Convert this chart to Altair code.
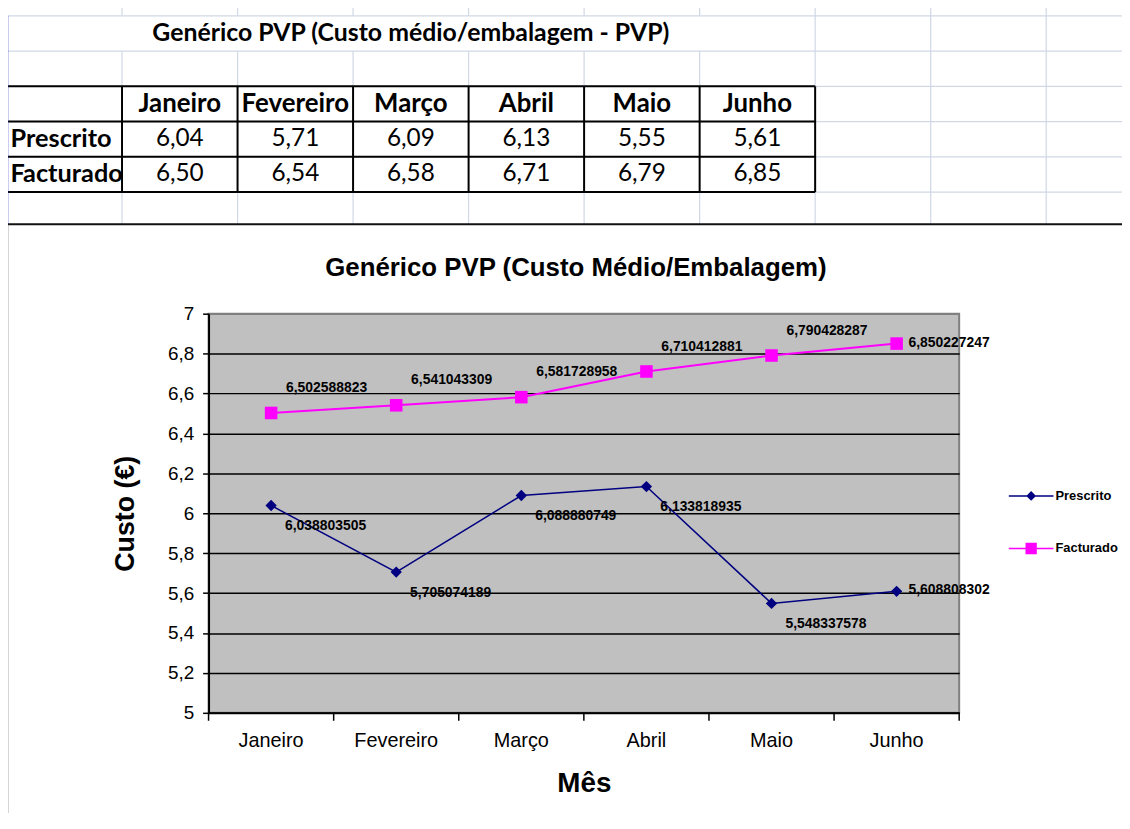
import altair as alt
import pandas as pd

# ---------------- data ----------------
months = ["Janeiro", "Fevereiro", "Março", "Abril", "Maio", "Junho"]
series = ["Prescrito", "Facturado"]
prescrito = [6.038803505, 5.705074189, 6.088880749, 6.133818935, 5.548337578, 5.608808302]
facturado = [6.502588823, 6.541043309, 6.581728958, 6.710412881, 6.790428287, 6.850227247]
y_ticks = [5, 5.2, 5.4, 5.6, 5.8, 6, 6.2, 6.4, 6.6, 6.8, 7]
table_title = "Genérico PVP (Custo médio/embalagem - PVP)"
chart_title = "Genérico PVP (Custo Médio/Embalagem)"
y_title = "Custo (€)"
x_title = "Mês"

# ---------------- styles ----------------
colors = {"Prescrito": "#000080", "Facturado": "#FF00FF"}
legend_paths = {
    "Prescrito": "M-1,0H1M0,-0.17L0.17,0L0,0.17L-0.17,0Z",
    "Facturado": "M-1,0H1M-0.22,-0.22H0.22V0.22H-0.22Z",
}
CF = "Liberation Sans"   # Arial-like
TF = "Lato"              # Calibri-like
W, H = 756, 402

values = {"Prescrito": prescrito, "Facturado": facturado}
df = pd.DataFrame([
    {"mes": m, "serie": s, "valor": v, "rotulo": f"{v:.9f}".replace(".", ",")}
    for s in series for m, v in zip(months, values[s])
])
df_m = pd.DataFrame({"mes": months})
df_one = pd.DataFrame({"a": [0]})
df_title = pd.DataFrame({"t": [chart_title]})

# ---------------- spreadsheet table (cell-index scales) ----------------
n_grid_cols = 10
tab_cols = len(months) + 1
tt = [dict(txt=table_title, cx=tab_cols / 2, cy=0.5, kind="title")]
for i, m in enumerate(months):
    tt.append(dict(txt=m, cx=i + 1.5, cy=2.5, kind="head"))
for j, s in enumerate(series):
    tt.append(dict(txt=s, cx=0, cy=3.5 + j, kind="rowlab"))
    for i, v in enumerate(values[s]):
        tt.append(dict(txt=f"{v:.2f}".replace(".", ","), cx=i + 1.5, cy=3.5 + j, kind="val"))
df_tt = pd.DataFrame(tt)

light_h = pd.DataFrame([dict(x0=0, x1=n_grid_cols, y0=r) for r in range(0, 6)])
light_v_full = pd.DataFrame([dict(x0=k, y0=(1 if 1 <= k < tab_cols else -1)) for k in range(0, n_grid_cols)])
light_v_top = pd.DataFrame([dict(x0=k, y0=-1, y1=0) for k in range(1, tab_cols)])
black_h = pd.DataFrame([dict(x0=0, x1=tab_cols, y0=r) for r in range(2, 6)])
black_v = pd.DataFrame([dict(x0=k, y0=2, y1=5) for k in range(0, tab_cols + 1)])

tx = alt.Scale(domain=[0, 10], range=[-203.5, 960], nice=False, zero=False)
ty = alt.Scale(domain=[0, 6], range=[-300, -87], nice=False, zero=False)
TX = lambda f: alt.X(f, scale=tx, axis=None)
TY = lambda f: alt.Y(f, scale=ty, axis=None)

grid_col = "#D0D7E5"
t_layers = [
    alt.Chart(light_h).mark_rule(color=grid_col, strokeWidth=1.2).encode(
        x=TX("x0:Q"), x2="x1:Q", y=TY("y0:Q")),
    alt.Chart(light_v_full).mark_rule(color=grid_col, strokeWidth=1.2).encode(
        x=TX("x0:Q"), y=TY("y0:Q"), y2=alt.value(-90)),
    alt.Chart(light_v_top).mark_rule(color=grid_col, strokeWidth=1.2).encode(
        x=TX("x0:Q"), y=TY("y0:Q"), y2="y1:Q"),
    alt.Chart(black_h).mark_rule(color="black", strokeWidth=2).encode(
        x=TX("x0:Q"), x2="x1:Q", y=TY("y0:Q")),
    alt.Chart(black_v).mark_rule(color="black", strokeWidth=2).encode(
        x=TX("x0:Q"), y=TY("y0:Q"), y2="y1:Q"),
    alt.Chart(df_tt).transform_filter(alt.datum.kind == "title").mark_text(
        font=TF, fontSize=25, fontWeight="bold", color="black", align="center", baseline="middle").encode(
        x=TX("cx:Q"), y=TY("cy:Q"), text="txt:N"),
    alt.Chart(df_tt).transform_filter(alt.datum.kind == "head").mark_text(
        font=TF, fontSize=26, fontWeight="bold", color="black", align="center", baseline="middle").encode(
        x=TX("cx:Q"), y=TY("cy:Q"), text="txt:N"),
    alt.Chart(df_tt).transform_filter(alt.datum.kind == "rowlab").mark_text(
        font=TF, fontSize=25.5, fontWeight="bold", color="black", align="left", baseline="middle", dx=4).encode(
        x=TX("cx:Q"), y=TY("cy:Q"), text="txt:N"),
    alt.Chart(df_tt).transform_filter(alt.datum.kind == "val").mark_text(
        font=TF, fontSize=24.5, color="black", align="center", baseline="middle").encode(
        x=TX("cx:Q"), y=TY("cy:Q"), text="txt:N"),
    # sheet selection edge and chart-object frame
    alt.Chart(df_one).mark_rule(color="#3030CC", strokeWidth=2.5).encode(
        x=alt.value(-203), y=alt.value(-300), y2=alt.value(-90)),
    alt.Chart(df_one).mark_rule(color="#111111", strokeWidth=2).encode(
        x=alt.value(-203), x2=alt.value(930), y=alt.value(-90)),
    alt.Chart(df_one).mark_rule(color="#555555", strokeWidth=2.5).encode(
        x=alt.value(-203), y=alt.value(-90), y2=alt.value(520)),
]
table_group = alt.layer(*t_layers)

# ---------------- line chart ----------------
x_scale = alt.Scale(domain=months, paddingInner=0, paddingOuter=0)
y_scale = alt.Scale(domain=[5, 7], nice=False, zero=False)
x_axis = alt.Axis(title=x_title, orient="bottom", ticks=False, labelAngle=0, labelFont=CF,
                  labelFontSize=20, labelColor="black", labelPadding=18, domainColor="black",
                  domainWidth=2, grid=False, titleFont=CF, titleFontSize=28, titleFontWeight="bold",
                  titleColor="black", titlePadding=19)
y_axis = alt.Axis(title=y_title, orient="left", values=y_ticks, format="~g",
                  labelExpr="replace(datum.label, '.', ',')", labelFont=CF, labelFontSize=19,
                  labelColor="black", labelPadding=9, tickSize=6, tickColor="black", tickWidth=1.5,
                  domainColor="black", domainWidth=2, grid=True,
                  gridColor={"condition": {"test": "datum.value >= 7", "value": "#808080"}, "value": "black"},
                  gridWidth=1.5, gridOpacity=1, titleFont=CF, titleFontSize=27, titleFontWeight="bold",
                  titleColor="black", titlePadding=28)


def X(**kw):
    return alt.X("mes:N", scale=x_scale, axis=x_axis, **kw)


Y = alt.Y("valor:Q", scale=y_scale, axis=y_axis)

c_layers = []
for s, w in zip(series, [1.5, 2]):
    c_layers.append(alt.Chart(df).transform_filter(alt.datum.serie == s).mark_line(
        color=colors[s], strokeWidth=w).encode(x=X(), y=Y))
c_layers.append(alt.Chart(df).transform_filter(alt.datum.serie == "Prescrito").mark_point(
    filled=True, shape="diamond", size=130, color=colors["Prescrito"], opacity=1).encode(x=X(), y=Y))
c_layers.append(alt.Chart(df).transform_filter(alt.datum.serie == "Facturado").mark_point(
    filled=True, shape="square", size=160, color=colors["Facturado"], opacity=1).encode(x=X(), y=Y))

lab_style = dict(font=CF, fontSize=14, fontWeight="bold", color="black", align="left", baseline="middle")
c_layers.append(alt.Chart(df).transform_filter(
    (alt.datum.serie == "Facturado") & (alt.datum.mes != months[-1])).mark_text(
    dx=15, dy=-25, **lab_style).encode(x=X(), y=Y, text="rotulo:N"))
c_layers.append(alt.Chart(df).transform_filter(
    (alt.datum.serie == "Prescrito") & (alt.datum.mes != months[-1])).mark_text(
    dx=14, dy=21, **lab_style).encode(x=X(), y=Y, text="rotulo:N"))
c_layers.append(alt.Chart(df).transform_filter(alt.datum.mes == months[-1]).mark_text(
    dx=12, dy=-1, **lab_style).encode(x=X(), y=Y, text="rotulo:N"))

# category-boundary ticks on the x axis
c_layers.append(alt.Chart(df_m).mark_rule(color="black", strokeWidth=1.5).encode(
    x=X(bandPosition=0), y=alt.value(H), y2=alt.value(H + 8)))
c_layers.append(alt.Chart(df_m).transform_filter(alt.datum.mes == months[-1]).mark_rule(
    color="black", strokeWidth=1.5).encode(x=X(bandPosition=1), y=alt.value(H), y2=alt.value(H + 8)))

# chart title (inside the chart object frame)
c_layers.append(alt.Chart(df_title).mark_text(
    font=CF, fontSize=26, fontWeight="bold", color="black", align="center", baseline="middle").encode(
    x=alt.value(370), y=alt.value(-46), text="t:N"))

# legend carrier (draws no marks, only the legend)
leg = alt.Legend(title=None, orient="none", legendX=805, legendY=160, labelFont=CF, labelFontSize=13,
                 labelFontWeight="bold", labelColor="black", labelOffset=1, symbolSize=2025,
                 symbolStrokeWidth=1.5, symbolOpacity=1, rowPadding=22)
c_layers.append(alt.Chart(df).transform_filter("false").mark_point(filled=True, opacity=1).encode(
    x=X(), y=Y,
    fill=alt.Fill("serie:N", scale=alt.Scale(domain=series, range=[colors[s] for s in series]), legend=leg),
    stroke=alt.Stroke("serie:N", scale=alt.Scale(domain=series, range=[colors[s] for s in series]), legend=leg),
    shape=alt.Shape("serie:N", scale=alt.Scale(domain=series, range=[legend_paths[s] for s in series]), legend=leg),
))
chart_group = alt.layer(*c_layers)

chart = alt.layer(table_group, chart_group).resolve_scale(
    x="independent", y="independent"
).properties(
    width=W, height=H,
    autosize=alt.AutoSizeParams(type="none"),
    padding={"left": 202, "top": 305, "right": 164, "bottom": 98},
    background="white",
).configure_view(fill="#C0C0C0", stroke="#808080", strokeWidth=2)

chart.save("out.html", embed_options={"renderer": "svg", "actions": False})
